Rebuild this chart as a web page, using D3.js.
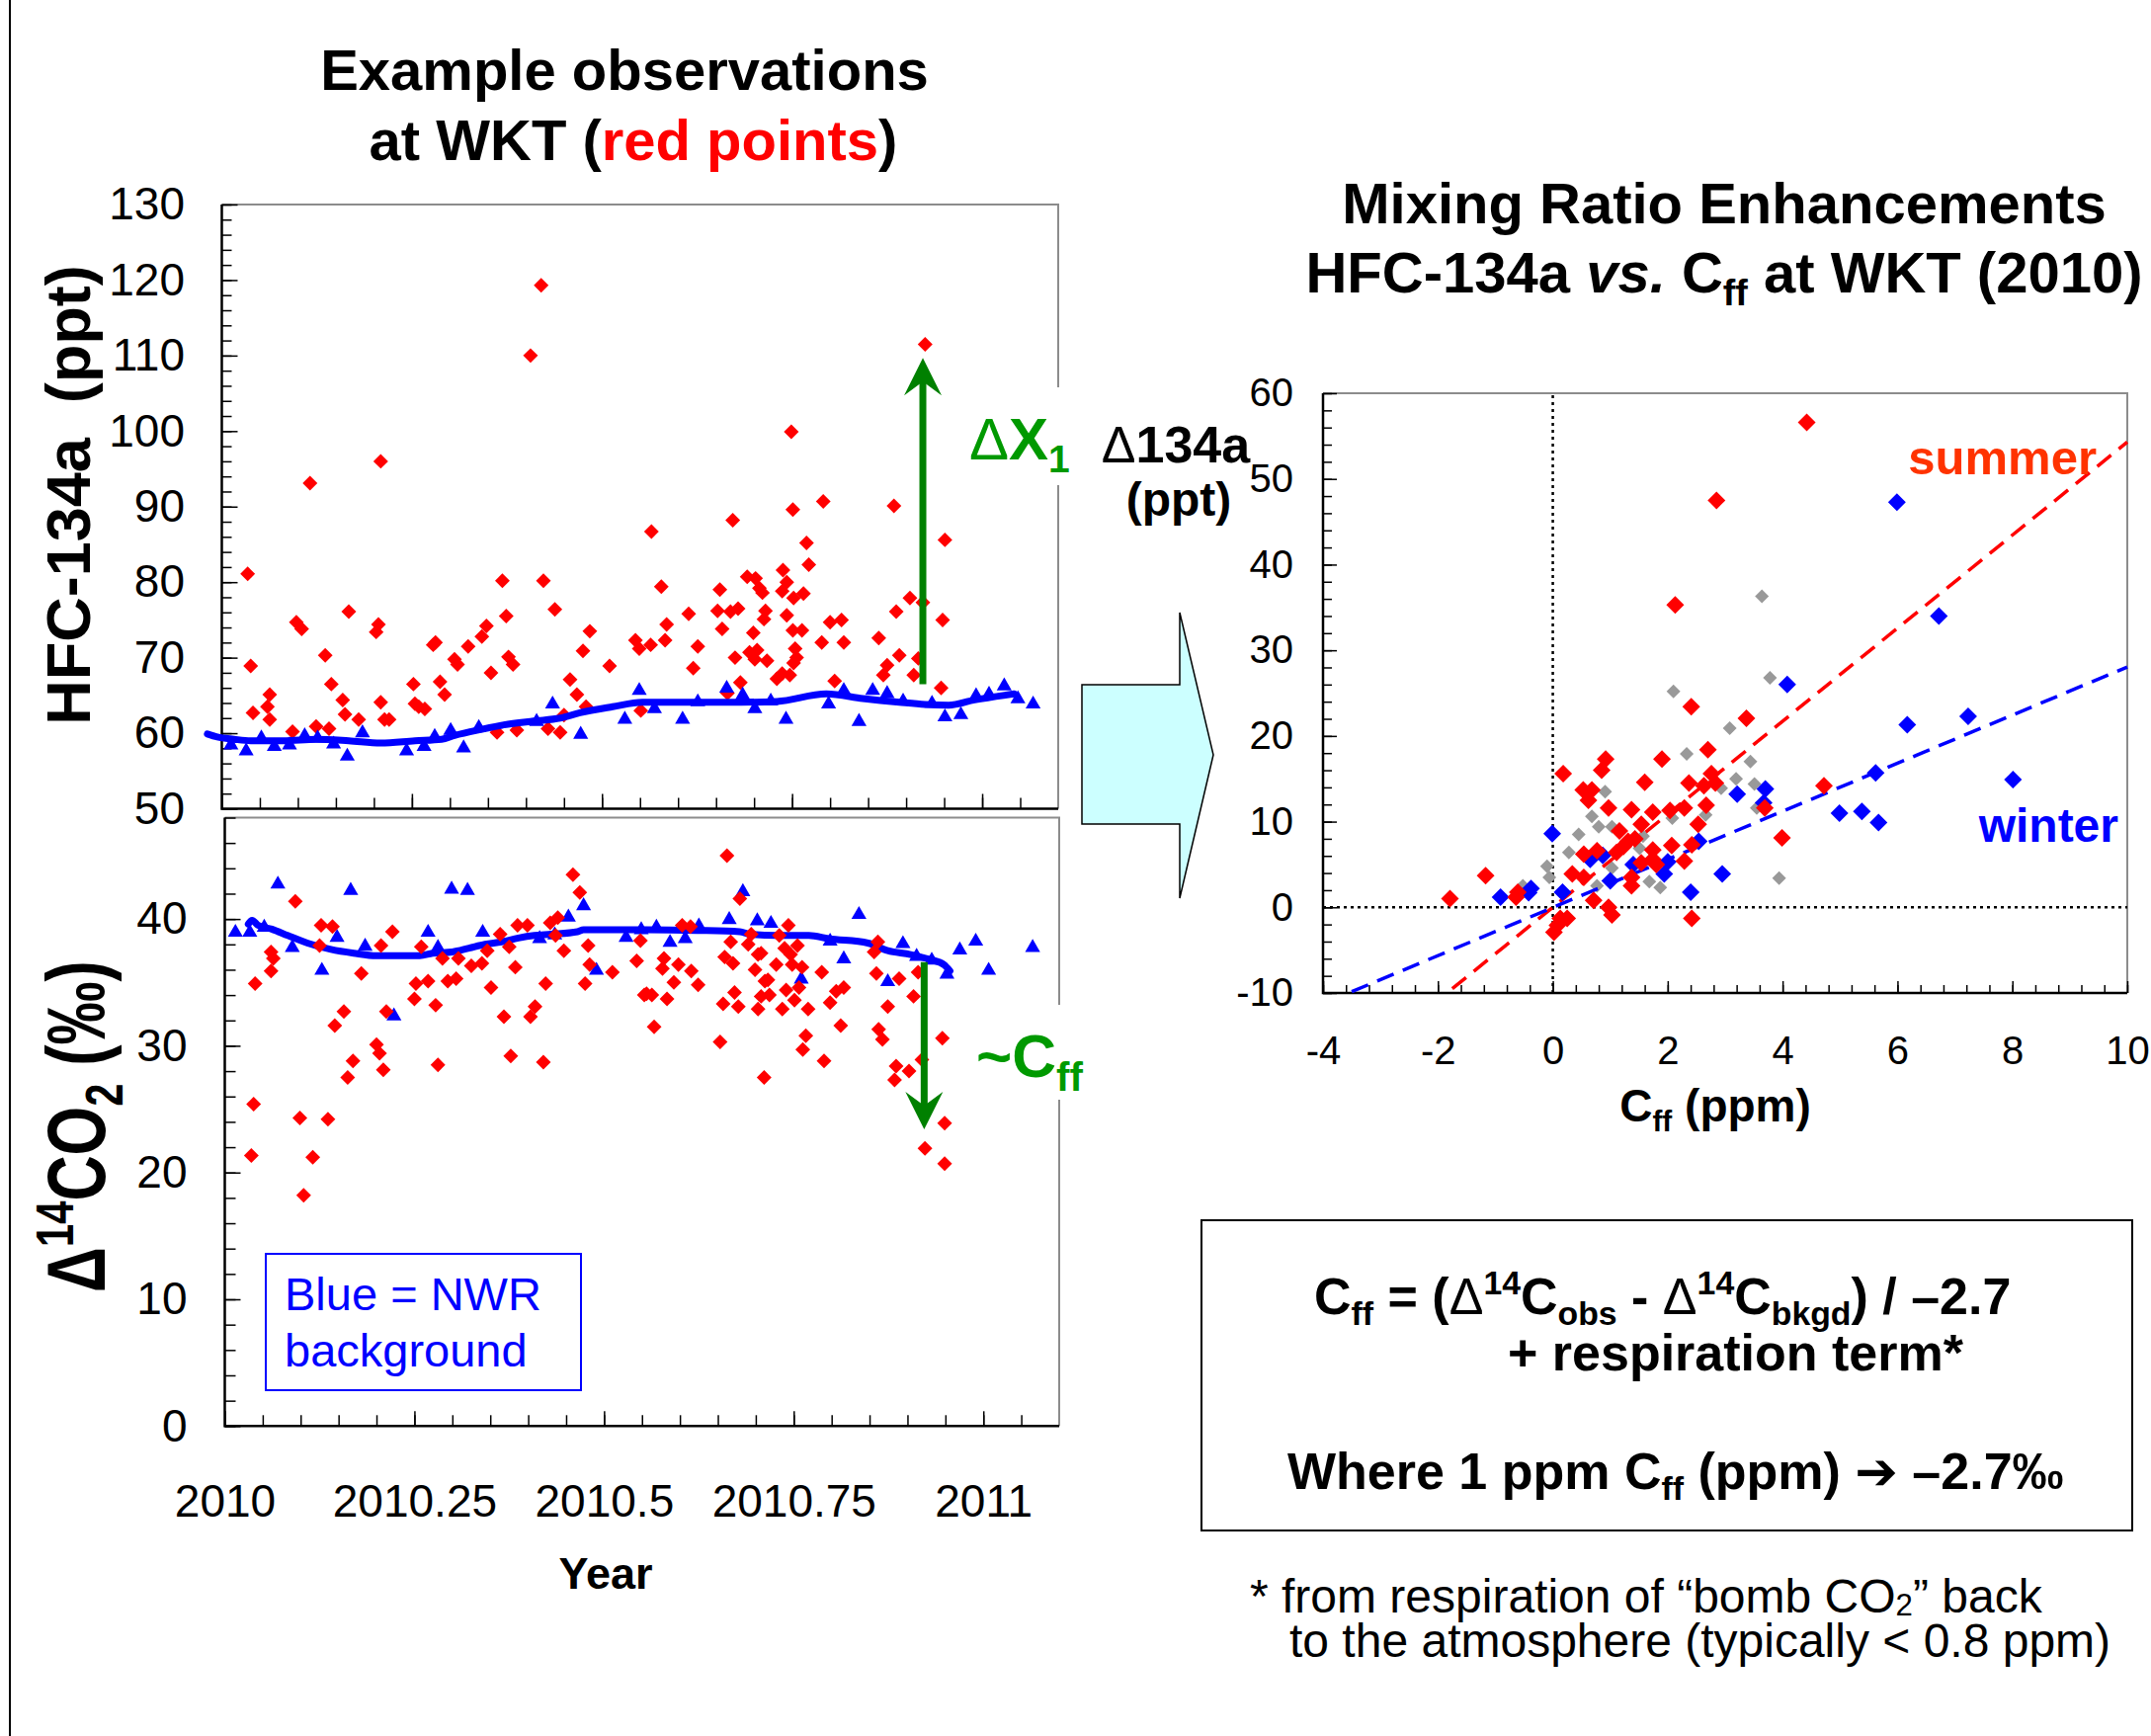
<!DOCTYPE html>
<html>
<head>
<meta charset="utf-8">
<title>HFC-134a and radiocarbon at WKT</title>
<script src="https://cdn.jsdelivr.net/npm/d3@7"></script>
<style>
  body { margin: 0; background: #fff; }
  svg { display: block; }
  text { white-space: pre; }
</style>
</head>
<body>
<div id="container"></div>
<script>
/* DATA */
// HFC-134a at WKT, [decimal year, ppt]
const hfcWkt = [
  [2010.034,81.1],[2010.038,68.9],[2010.041,62.7],[2010.060,63.5],[2010.063,65.1],[2010.063,61.8],[2010.093,60.2],
  [2010.098,74.7],[2010.105,73.8],[2010.116,93.1],[2010.124,60.9],[2010.136,70.3],[2010.141,60.6],[2010.144,66.5],
  [2010.159,64.4],[2010.162,62.5],[2010.167,76.1],[2010.180,61.8],[2010.203,73.4],[2010.206,74.4],[2010.209,96.0],
  [2010.209,64.1],[2010.214,61.8],[2010.220,61.8],[2010.252,66.5],[2010.254,63.9],[2010.259,63.5],[2010.267,63.2],
  [2010.278,71.7],[2010.281,72.0],[2010.287,66.8],[2010.293,65.1],[2010.306,69.8],[2010.310,69.1],[2010.324,71.5],
  [2010.342,72.8],[2010.348,74.2],[2010.354,68.0],[2010.362,60.1],[2010.369,80.2],[2010.374,75.5],[2010.377,70.1],
  [2010.383,69.1],[2010.388,60.4],[2010.406,110.0],[2010.420,119.3],[2010.423,80.2],[2010.429,60.6],[2010.438,76.4],
  [2010.445,60.1],[2010.450,62.4],[2010.458,67.1],[2010.467,65.1],[2010.475,70.9],[2010.479,63.5],[2010.484,73.5],
  [2010.510,68.9],[2010.544,72.3],[2010.549,71.2],[2010.551,63.0],[2010.565,86.7],[2010.564,71.7],[2010.578,79.4],
  [2010.583,72.3],[2010.585,74.4],[2010.614,75.8],[2010.620,68.6],[2010.626,71.5],[2010.655,79.0],[2010.652,76.2],
  [2010.658,73.8],[2010.669,76.1],[2010.672,88.2],[2010.679,76.5],[2010.675,70.0],[2010.682,66.7],[2010.665,65.3],
  [2010.691,80.7],[2010.702,80.5],[2010.707,79.2],[2010.711,78.6],[2010.715,76.2],[2010.713,75.1],[2010.699,73.3],
  [2010.694,70.7],[2010.704,71.0],[2010.701,69.8],[2010.717,69.6],[2010.730,67.2],[2010.737,67.9],[2010.747,67.7],
  [2010.738,81.6],[2010.743,80.0],[2010.737,78.8],[2010.752,77.9],[2010.765,78.5],[2010.743,75.6],[2010.751,73.6],
  [2010.763,73.6],[2010.754,71.2],[2010.756,70.0],[2010.752,69.3],[2010.749,99.9],[2010.751,89.6],[2010.769,85.2],
  [2010.772,82.3],[2010.791,90.7],[2010.789,72.0],[2010.800,74.7],[2010.815,75.0],[2010.818,72.0],[2010.806,66.9],
  [2010.864,72.6],[2010.884,90.1],[2010.887,76.1],[2010.905,77.9],[2010.922,77.3],[2010.875,69.0],[2010.870,67.7],
  [2010.891,70.3],[2010.910,67.7],[2010.916,69.9],[2010.925,111.5],[2010.951,85.6],[2010.948,75.0],[2010.946,66.0]
];
// HFC-134a at NWR (background)
const hfcNwr = [
  [2010.012,58.7],[2010.032,57.9],[2010.052,59.6],[2010.069,58.5],[2010.089,58.7],[2010.109,59.9],[2010.126,59.6],
  [2010.147,58.8],[2010.165,57.2],[2010.185,60.3],[2010.243,57.9],[2010.266,58.5],[2010.280,59.8],[2010.301,60.6],
  [2010.318,58.3],[2010.338,61.0],[2010.414,61.8],[2010.435,64.1],[2010.472,60.1],[2010.530,62.1],[2010.549,65.9],
  [2010.569,63.5],[2010.606,62.1],[2010.626,64.4],[2010.664,66.2],[2010.685,65.3],[2010.701,63.5],[2010.722,64.5],
  [2010.742,62.1],[2010.798,64.1],[2010.818,65.9],[2010.838,61.8],[2010.856,65.9],[2010.875,65.5],[2010.896,64.5],
  [2010.934,64.2],[2010.951,62.4],[2010.972,62.7],[2010.992,65.2],[2011.009,65.4],[2011.029,66.5],[2011.047,64.8],
  [2011.067,64.1]
];
// smooth NWR curve
const hfcNwrFit = [
  [2009.981,59.9],[2009.994,59.5],[2010.016,59.2],[2010.038,59.0],[2010.081,59.0],[2010.124,59.2],[2010.167,59.0],
  [2010.209,58.7],[2010.254,59.0],[2010.289,59.2],[2010.306,59.7],[2010.341,60.5],[2010.371,61.1],[2010.410,61.6],
  [2010.445,62.0],[2010.471,62.7],[2010.514,63.5],[2010.553,64.1],[2010.583,64.1],[2010.626,64.1],[2010.683,64.1],
  [2010.730,64.2],[2010.795,65.2],[2010.843,64.6],[2010.891,64.1],[2010.925,63.8],[2010.956,63.7],[2010.990,64.4],
  [2011.042,65.2]
];
// Delta14CO2 at WKT, [decimal year, permil]
const c14Wkt = [
  [2010.035,21.35],[2010.038,25.4],[2010.040,34.9],[2010.061,37.4],[2010.064,36.9],[2010.061,35.9],[2010.093,41.4],
  [2010.099,24.3],[2010.104,18.2],[2010.116,21.2],[2010.125,37.9],[2010.127,39.5],[2010.142,39.4],[2010.136,24.2],
  [2010.145,31.6],[2010.157,32.7],[2010.162,27.5],[2010.169,28.8],[2010.180,35.7],[2010.200,30.1],[2010.204,29.4],
  [2010.209,28.1],[2010.206,37.9],[2010.213,32.7],[2010.221,39.0],[2010.250,33.7],[2010.252,34.9],[2010.259,37.8],
  [2010.268,35.1],[2010.278,33.2],[2010.281,28.5],[2010.287,36.9],[2010.294,35.1],[2010.305,35.3],[2010.308,36.9],
  [2010.325,36.3],[2010.339,36.5],[2010.346,37.5],[2010.351,34.6],[2010.363,38.8],[2010.368,32.3],[2010.375,37.8],
  [2010.377,29.2],[2010.383,36.2],[2010.386,39.5],[2010.399,39.5],[2010.403,32.3],[2010.409,33.1],[2010.420,28.7],
  [2010.423,34.9],[2010.429,39.7],[2010.439,40.1],[2010.436,38.7],[2010.447,37.5],[2010.459,43.5],[2010.468,42.1],
  [2010.479,37.9],[2010.481,36.4],[2010.475,34.9],[2010.511,35.8],[2010.543,36.7],[2010.548,38.3],[2010.553,34.0],
  [2010.566,31.5],[2010.556,34.1],[2010.563,34.0],[2010.579,36.9],[2010.577,36.1],[2010.583,33.7],[2010.592,35.0],
  [2010.598,36.4],[2010.603,39.5],[2010.615,35.9],[2010.624,34.8],[2010.614,39.4],[2010.653,30.3],[2010.657,33.3],
  [2010.659,37.0],[2010.662,45.0],[2010.667,38.2],[2010.670,36.5],[2010.672,34.2],[2010.677,33.1],[2010.679,41.6],
  [2010.690,38.0],[2010.694,38.8],[2010.699,36.0],[2010.703,37.2],[2010.707,37.3],[2010.707,33.9],[2010.703,32.9],
  [2010.712,35.1],[2010.718,34.0],[2010.716,35.2],[2010.727,36.4],[2010.731,38.7],[2010.735,32.9],[2010.738,37.7],
  [2010.740,34.4],[2010.743,39.5],[2010.746,37.2],[2010.748,36.4],[2010.751,33.6],[2010.755,37.9],[2010.757,34.6],
  [2010.761,36.2],[2010.769,32.9],[2010.766,30.8],[2010.762,29.7],[2010.711,27.5],[2010.787,35.8],[2010.790,28.8],
  [2010.798,33.4],[2010.806,34.3],[2010.816,34.6],[2010.812,31.6],[2010.856,37.4],[2010.861,38.2],[2010.859,35.7],
  [2010.862,31.3],[2010.867,30.5],[2010.874,33.1],[2010.889,35.3],[2010.908,33.9],[2010.914,35.8],[2010.885,28.4],
  [2010.883,27.3],[2010.902,28.0],[2010.919,28.9],[2010.946,30.6],[2010.949,23.9],[2010.923,21.9],[2010.949,20.7]
];
const c14Nwr = [
  [2010.014,39.1],[2010.033,39.1],[2010.052,39.5],[2010.070,42.9],[2010.089,37.9],[2010.128,36.1],[2010.148,38.7],
  [2010.166,42.4],[2010.185,38.0],[2010.223,32.5],[2010.268,39.1],[2010.281,37.9],[2010.299,42.5],[2010.320,42.4],
  [2010.340,39.1],[2010.415,38.6],[2010.435,38.9],[2010.453,40.3],[2010.473,41.2],[2010.490,36.1],[2010.529,38.7],
  [2010.549,39.3],[2010.569,39.5],[2010.587,38.3],[2010.607,38.6],[2010.625,39.6],[2010.665,40.1],[2010.683,42.3],
  [2010.702,40.0],[2010.720,39.8],[2010.760,35.4],[2010.798,38.4],[2010.816,37.0],[2010.836,40.5],[2010.874,35.2],
  [2010.894,38.2],[2010.912,37.2],[2010.932,36.9],[2010.952,35.8],[2010.969,37.7],[2010.990,38.4],[2011.007,36.1],
  [2011.065,37.9]
];
const c14NwrFit = [
  [2010.031,39.6],[2010.036,39.9],[2010.044,39.5],[2010.062,39.2],[2010.083,38.7],[2010.109,38.1],[2010.140,37.6],
  [2010.170,37.3],[2010.200,37.1],[2010.231,37.1],[2010.257,37.1],[2010.274,37.3],[2010.300,37.4],[2010.322,37.7],
  [2010.343,38.0],[2010.365,38.2],[2010.387,38.5],[2010.408,38.7],[2010.430,38.8],[2010.465,39.0],[2010.473,39.15],
  [2010.517,39.15],[2010.556,39.15],[2010.623,39.1],[2010.679,39.0],[2010.692,38.8],[2010.727,38.7],[2010.770,38.7],
  [2010.796,38.45],[2010.848,38.1],[2010.874,37.5],[2010.904,37.2],[2010.930,36.8],[2010.948,36.4],[2010.956,35.9]
];
// enhancements: [Cff ppm, delta HFC-134a ppt]
const summerPts = [
  [4.42,56.6],[2.85,47.5],[2.13,35.3],[2.41,23.4],[3.37,22.05],[4.72,14.2],[3.99,8.1],[-1.79,1.0],[-1.17,3.7],
  [2.70,18.4],[1.90,17.3],[0.92,17.3],[0.85,16.0],[0.18,15.6],[1.60,14.6],[0.53,13.7],[0.68,13.7],[0.62,12.5],
  [2.37,14.5],[2.63,14.2],[2.76,15.6],[2.83,14.5],[0.97,11.6],[1.37,11.4],[1.74,11.1],[2.04,11.3],[2.29,11.6],
  [2.67,11.9],[2.53,9.7],[1.54,9.7],[1.16,8.9],[1.31,7.7],[1.43,8.0],[2.07,7.2],[2.42,7.3],[1.74,6.7],[1.11,6.4],
  [0.77,6.6],[0.54,6.2],[1.54,5.2],[1.80,5.0],[2.29,5.4],[1.74,5.6],[0.34,3.9],[0.54,3.5],[1.37,3.5],[1.37,2.5],
  [0.71,0.8],[0.97,0.0],[1.03,-0.9],[0.13,-1.3],[0.25,-1.3],[0.08,-2.1],[0.02,-2.9],[2.42,-1.3],[3.69,11.6],
  [-0.61,1.75],[-0.64,1.2],[1.23,7.1]
];
const winterPts = [
  [5.99,47.3],[6.72,34.0],[4.08,26.0],[6.17,21.3],[7.23,22.3],[5.62,15.7],[8.01,14.9],[4.99,11.0],[5.38,11.2],
  [5.67,9.9],[2.95,3.9],[3.70,13.8],[3.21,13.2],[3.67,12.2],[-0.01,8.6],[-0.91,1.2],[-0.38,2.2],[-0.42,1.7],
  [0.17,1.75],[0.65,5.6],[0.87,6.05],[1.00,3.1],[1.40,5.0],[2.00,5.3],[1.94,3.9],[2.54,7.7],[2.40,1.75]
];
const otherPts = [
  [3.64,36.3],[3.78,26.8],[2.10,25.2],[3.08,20.9],[2.33,17.9],[3.44,17.0],[3.94,3.4],[3.19,15.0],[3.51,14.4],
  [2.93,13.9],[3.55,11.6],[0.91,13.5],[0.68,10.6],[0.80,9.4],[0.45,8.5],[0.28,6.4],[-0.10,4.8],[-0.06,3.5],
  [1.03,9.4],[1.57,8.3],[1.51,6.9],[1.03,4.6],[0.77,2.5],[1.68,3.0],[1.87,2.3],[2.08,10.4],[2.66,10.8],[-0.52,2.5]
];
// fitted lines, end points
const summerFit = [[-1.75,-9.5],[10,54.3]];
const winterFit = [[-3.5,-9.85],[10,28.05]];
// annotation arrows [year, value]
const dx1Arrow = [[2010.922,66.5],[2010.922,109.7]];
const cffArrow = [[2010.922,36.6],[2010.922,23.4]];
// tick labels
const yearTicks = [2010, 2010.25, 2010.5, 2010.75, 2011];
const hfcTicks = [50, 60, 70, 80, 90, 100, 110, 120, 130];
const c14Ticks = [0, 10, 20, 30, 40];
const cffTicks = [-4, -2, 0, 2, 4, 6, 8, 10];
const dTicks = [-10, 0, 10, 20, 30, 40, 50, 60];

/* CONSTANTS */
const FONT = '"Liberation Sans", Arial, Helvetica, sans-serif';
const RED = "#ff0000", BLUE = "#0000ff", GRAY = "#999999", GREEN = "#008000", LGREEN = "#009900";

const svg = d3.select("#container").append("svg")
  .attr("width", 2177).attr("height", 1757)
  .attr("font-family", FONT);

/* SCALES */
const xTop = d3.scaleLinear().domain([2010, 2011.1]).range([224.5, 1071]);
const yTop = d3.scaleLinear().domain([50, 130]).range([818.5, 207]);
const xBot = d3.scaleLinear().domain([2010, 2011.1]).range([227.5, 1072]);
const yBot = d3.scaleLinear().domain([0, 48]).range([1443.3, 827.5]);
const xSc = d3.scaleLinear().domain([-4, 10]).range([1339, 2153]);
const ySc = d3.scaleLinear().domain([-10, 60]).range([1005, 398]);

/* HELPERS */
// text made of parts; a part may be sub/superscript, italic, another weight, colour or font
function rich(x, y, parts, o) {
  const t = svg.append("text").attr("x", x).attr("y", y)
    .attr("font-size", o.size).attr("font-weight", o.weight || "bold")
    .attr("text-anchor", o.anchor || "start").attr("fill", o.fill || "#000");
  if (o.transform) t.attr("transform", o.transform);
  let shift = 0;
  parts.forEach(p => {
    if (typeof p === "string") p = { t: p };
    const off = p.off !== undefined ? p.off : p.sub ? 0.22 : p.sup ? -0.38 : 0;
    const ts = t.append("tspan").attr("dy", (off - shift) * o.size).text(p.t);
    if (p.sub || p.sup) ts.attr("font-size", o.size * 0.65);
    if (p.w) ts.attr("font-weight", p.w);
    if (p.i) ts.attr("font-style", "italic");
    if (p.fill) ts.attr("fill", p.fill);
    if (p.font) ts.attr("font-family", p.font);
    shift = off;
  });
  return t;
}

function frame(xs, ys) {
  const [x0, x1] = xs.range(), [y0, y1] = ys.range();
  svg.append("path").attr("d", `M${x0},${y1}H${x1}V${y0}`)
    .attr("fill", "none").attr("stroke", "#8c8c8c").attr("stroke-width", 2);
  svg.append("path").attr("d", `M${x0},${y1}V${y0}H${x1}`)
    .attr("fill", "none").attr("stroke", "#000").attr("stroke-width", 2.5);
}

function styleAxis(g, fs) {
  g.select(".domain").remove();
  g.selectAll("line").attr("stroke", "#000").attr("stroke-width", 1.5);
  g.selectAll("text").attr("font-size", fs).attr("font-family", FONT).attr("fill", "#000");
}

function ticksY(ys, x, majors, minors, majLen, minLen, pad, fs, labelled = true) {
  svg.append("g").attr("transform", `translate(${x},0)`)
    .call(d3.axisLeft(ys).tickValues(minors).tickSize(-minLen).tickFormat(""))
    .call(g => styleAxis(g, fs));
  svg.append("g").attr("transform", `translate(${x},0)`)
    .call(d3.axisLeft(ys).tickValues(majors).tickSize(-majLen).tickPadding(pad)
      .tickFormat(labelled ? (d => String(d)) : ""))
    .call(g => styleAxis(g, fs));
}

function ticksX(xs, y, majors, minors, majLen, minLen, pad, fs, labelled = true) {
  svg.append("g").attr("transform", `translate(0,${y})`)
    .call(d3.axisBottom(xs).tickValues(minors).tickSize(-minLen).tickFormat(""))
    .call(g => styleAxis(g, fs));
  svg.append("g").attr("transform", `translate(0,${y})`)
    .call(d3.axisBottom(xs).tickValues(majors).tickSize(-majLen).tickPadding(pad)
      .tickFormat(labelled ? (d => String(d)) : ""))
    .call(g => styleAxis(g, fs));
}

function diamonds(data, xs, ys, size, color) {
  svg.append("g").selectAll("path").data(data).join("path")
    .attr("d", d3.symbol(d3.symbolSquare, size)())
    .attr("transform", d => `translate(${xs(d[0])},${ys(d[1])}) rotate(45)`)
    .attr("fill", color);
}

function triangles(data, xs, ys, size, color) {
  svg.append("g").selectAll("path").data(data).join("path")
    .attr("d", d3.symbol(d3.symbolTriangle, size)())
    .attr("transform", d => `translate(${xs(d[0])},${ys(d[1]) + 2})`)
    .attr("fill", color);
}

function fit(data, xs, ys) {
  svg.append("path").datum(data)
    .attr("d", d3.line().x(d => xs(d[0])).y(d => ys(d[1])).curve(d3.curveMonotoneX))
    .attr("fill", "none").attr("stroke", BLUE).attr("stroke-width", 7)
    .attr("stroke-linejoin", "round").attr("stroke-linecap", "round");
}

function greenArrow(pts, xs, ys) {
  const x = xs(pts[0][0]), yA = ys(pts[0][1]), yB = ys(pts[1][1]);
  const dir = Math.sign(yB - yA);
  svg.append("line").attr("x1", x).attr("x2", x).attr("y1", yA).attr("y2", yB - dir * 22)
    .attr("stroke", GREEN).attr("stroke-width", 7);
  svg.append("path")
    .attr("d", `M${x},${yB}L${x - 19},${yB - dir * 38}L${x},${yB - dir * 24}L${x + 19},${yB - dir * 38}Z`)
    .attr("fill", GREEN);
}

function dashed(data, xs, ys, color) {
  svg.append("path").datum(data)
    .attr("d", d3.line().x(d => xs(d[0])).y(d => ys(d[1])))
    .attr("fill", "none").attr("stroke", color).attr("stroke-width", 3.5)
    .attr("stroke-dasharray", "18,10");
}

/* PAGE */
svg.append("line").attr("x1", 10).attr("x2", 10).attr("y1", 0).attr("y2", 1757)
  .attr("stroke", "#000").attr("stroke-width", 2);

// titles
rich(632, 91, ["Example observations"], { size: 58, anchor: "middle" });
rich(641, 162, ["at WKT (", { t: "red points", fill: RED }, ")"], { size: 58, anchor: "middle" });
rich(1745, 226, ["Mixing Ratio Enhancements"], { size: 58, anchor: "middle" });
rich(1745, 296, ["HFC-134a ", { t: "vs.", i: true }, " C", { t: "ff", sub: true }, " at WKT (2010)"],
  { size: 58, anchor: "middle" });

/* TOP PANEL: HFC-134a */
frame(xTop, yTop);
ticksY(yTop, 224.5, hfcTicks, d3.range(50, 131, 2), 16, 10, 37.5, 46);
ticksX(xTop, 818.5, yearTicks, d3.range(1, 22).map(i => 2010 + i * 0.05), 15, 11, 0, 46, false);
diamonds(hfcWkt, xTop, yTop, 112, RED);
triangles(hfcNwr, xTop, yTop, 100, BLUE);
fit(hfcNwrFit, xTop, yTop);
rich(0, 0, ["HFC-134a  (ppt)"], { size: 63, anchor: "middle", transform: "translate(91,501) rotate(-90)" });

/* BOTTOM PANEL: D14CO2 */
frame(xBot, yBot);
ticksY(yBot, 227.5, c14Ticks, d3.range(0, 49, 2), 16, 11, 38, 46);
ticksX(xBot, 1443.3, yearTicks, d3.range(1, 22).map(i => 2010 + i * 0.05), 15, 11, 59, 46);
fit(c14NwrFit, xBot, yBot);
triangles(c14Nwr, xBot, yBot, 100, BLUE);
diamonds(c14Wkt, xBot, yBot, 112, RED);
rich(0, 0, ["Δ", { t: "14", sup: true }, "CO", { t: "2", sub: true }, " (‰)"],
  { size: 64, anchor: "middle", transform: "translate(106,1140) rotate(-90) scale(1,1.3)" });
rich(613, 1608, ["Year"], { size: 45, anchor: "middle" });

// legend
svg.append("rect").attr("x", 269).attr("y", 1269).attr("width", 319).attr("height", 138)
  .attr("fill", "#fff").attr("stroke", BLUE).attr("stroke-width", 2);
rich(288, 1326, ["Blue = NWR"], { size: 47, weight: "normal", fill: BLUE });
rich(288, 1383, ["background"], { size: 47, weight: "normal", fill: BLUE });

// green arrows + labels
greenArrow(dx1Arrow, xTop, yTop);
greenArrow(cffArrow, xBot, yBot);
svg.append("rect").attr("x", 976).attr("y", 392).attr("width", 115).attr("height", 99).attr("fill", "#fff");
svg.append("rect").attr("x", 980).attr("y", 1017).attr("width", 125).attr("height", 96).attr("fill", "#fff");
rich(981, 465, [{ t: "Δ", w: "normal" }, "X", { t: "1", sub: true }], { size: 60, fill: LGREEN });
rich(988, 1090, ["~C", { t: "ff", sub: true }], { size: 62, fill: LGREEN });

/* BLOCK ARROW */
svg.append("polygon")
  .attr("points", "1095,693 1194,693 1194,620 1228,764 1194,909 1194,834 1095,834")
  .attr("fill", "#ccffff").attr("stroke", "#000").attr("stroke-width", 1.5);

/* SCATTER */
frame(xSc, ySc);
svg.append("line").attr("x1", xSc(0)).attr("x2", xSc(0)).attr("y1", ySc(-10)).attr("y2", ySc(60))
  .attr("stroke", "#000").attr("stroke-width", 2.5).attr("stroke-dasharray", "3,4");
svg.append("line").attr("x1", xSc(-4)).attr("x2", xSc(10)).attr("y1", ySc(0)).attr("y2", ySc(0))
  .attr("stroke", "#000").attr("stroke-width", 2.5).attr("stroke-dasharray", "3,4");
ticksY(ySc, 1339, dTicks, d3.range(-10, 61, 2), 14, 9, 30, 40);
ticksX(xSc, 1005, cffTicks, d3.range(0, 36).map(i => -4 + i * 0.4), 12, 8, 44, 40);
diamonds(otherPts, xSc, ySc, 98, GRAY);
dashed(summerFit, xSc, ySc, RED);
dashed(winterFit, xSc, ySc, BLUE);
diamonds(winterPts, xSc, ySc, 162, BLUE);
diamonds(summerPts, xSc, ySc, 162, RED);

rich(1190, 468, [{ t: "Δ", w: "normal" }, "134a"], { size: 52, anchor: "middle" });
rich(1193, 522, ["(ppt)"], { size: 48, anchor: "middle" });
rich(1736, 1135, ["C", { t: "ff", sub: true }, " (ppm)"], { size: 46, anchor: "middle" });
rich(2122, 480, ["summer"], { size: 49, anchor: "end", fill: "#ff3300" });
rich(2144, 852, ["winter"], { size: 48, anchor: "end", fill: BLUE });

/* EQUATION BOX */
svg.append("rect").attr("x", 1216).attr("y", 1235).attr("width", 942).attr("height", 314)
  .attr("fill", "none").attr("stroke", "#000").attr("stroke-width", 2);
rich(1330, 1330, ["C", { t: "ff", sub: true }, " = (", { t: "Δ", w: "normal" }, { t: "14", sup: true }, "C",
  { t: "obs", sub: true }, " - ", { t: "Δ", w: "normal" }, { t: "14", sup: true }, "C", { t: "bkgd", sub: true },
  ") / –2.7"], { size: 52 });
rich(1526, 1387, ["+ respiration term*"], { size: 52 });
rich(1303, 1507, ["Where 1 ppm C", { t: "ff", sub: true }, " (ppm) ",
  { t: "➔", font: '"DejaVu Sans", sans-serif' }, " –2.7‰"], { size: 52 });

rich(1265, 1632, ["* from respiration of “bomb CO", { t: "2", sub: true, off: 0.07 }, "” back"],
  { size: 48, weight: "normal" });
rich(1305, 1677, ["to the atmosphere (typically < 0.8 ppm)"], { size: 48, weight: "normal" });
</script>
</body>
</html>
